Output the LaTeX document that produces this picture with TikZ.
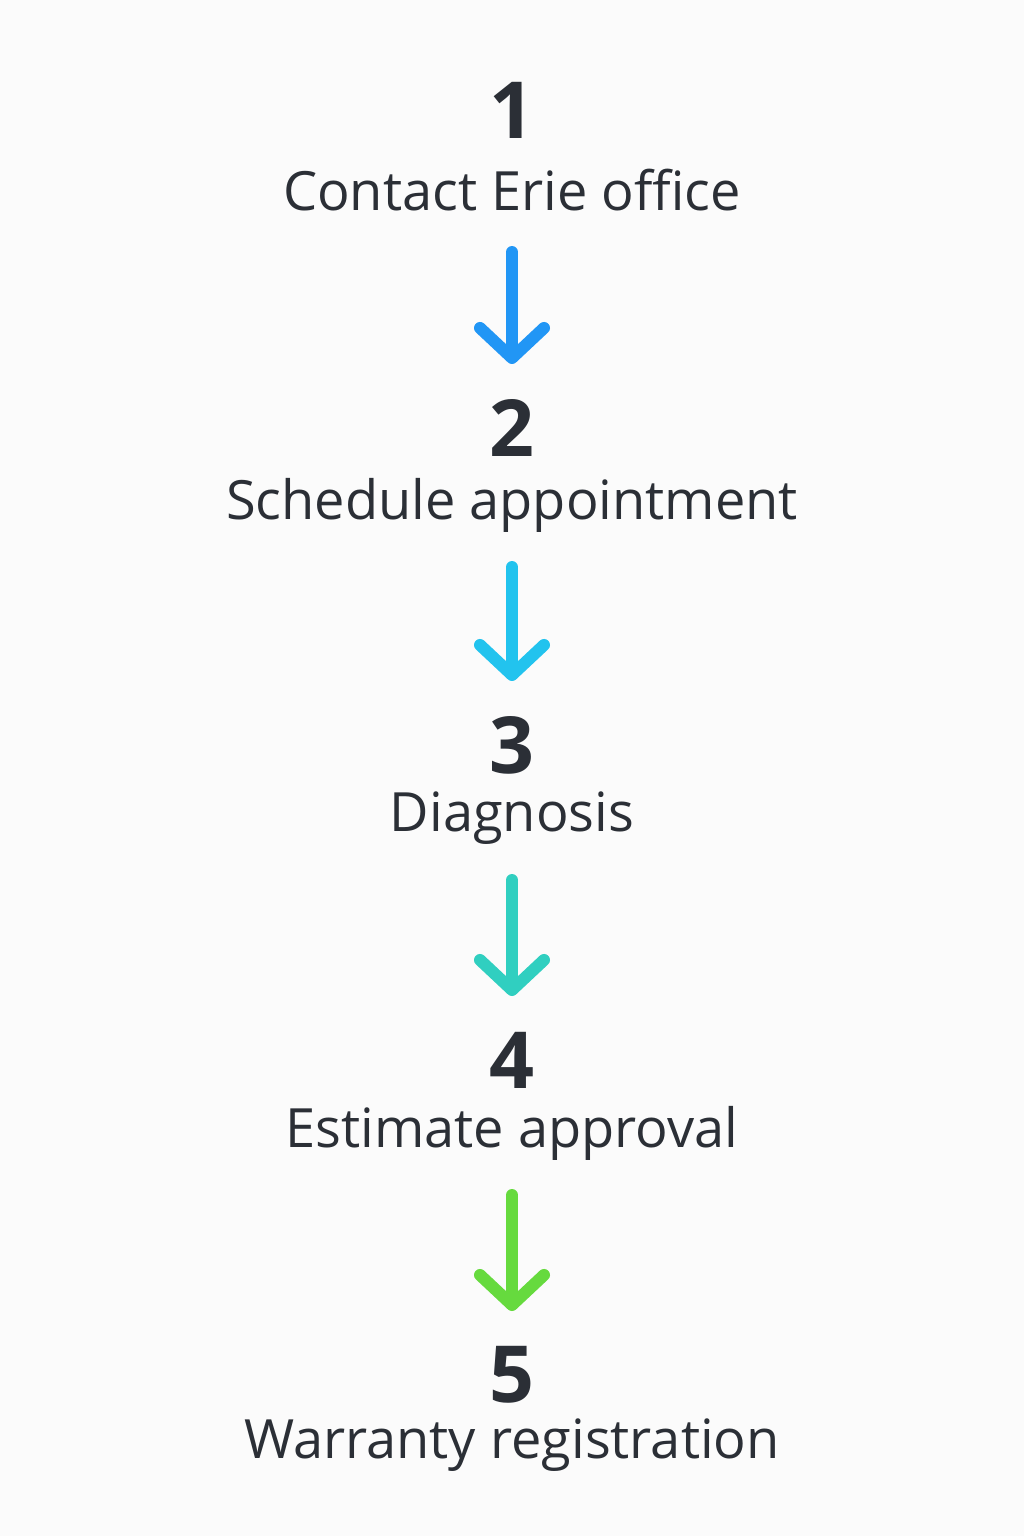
\documentclass[tikz,border=0pt]{standalone}
\usepackage{fontspec}
\setmainfont{Open Sans}
\usetikzlibrary{arrows.meta}
\definecolor{ink}{HTML}{2B2F36}
\definecolor{bg}{HTML}{FBFBFB}
\definecolor{cA}{HTML}{2196F5}
\definecolor{cB}{HTML}{22C3EE}
\definecolor{cC}{HTML}{30CFC0}
\definecolor{cD}{HTML}{66DA3E}
\begin{document}
\begin{tikzpicture}[x=0.025cm,y=-0.025cm,
        num/.style={inner sep=0pt, text=ink, font=\fontsize{56pt}{60pt}\selectfont\bfseries},
        lbl/.style={inner sep=0pt, text=ink, font=\fontsize{38.5pt}{42pt}\selectfont},
        arr/.style={draw, line width=0.3cm, line cap=round, line join=round,
                    -{Straight Barb[length=0.75cm, width=1.6cm, line cap=round, line join=round]}}
    ]
    \fill[bg] (0,0) rectangle (1024,1536);
    \node [num] (n1) at (512,110) {1};
    \node [lbl] (t1) at (512,190) {Contact Erie office};
    \node [num] (n2) at (512,428) {2};
    \node [lbl] (t2) at (512,505) {Schedule appointment};
    \node [num] (n3) at (512,745) {3};
    \node [lbl] (t3) at (512,818) {Diagnosis};
    \node [num] (n4) at (512,1060) {4};
    \node [lbl] (t4) at (512,1133) {Estimate approval};
    \node [num] (n5) at (512,1375) {5};
    \node [lbl] (t5) at (512,1445) {Warranty registration};

    \draw [arr, cA] ([yshift=-1.55cm]t1.center) -- ([yshift=1.6cm]n2.center);
    \draw [arr, cB] ([yshift=-1.55cm]t2.center) -- ([yshift=1.6cm]n3.center);
    \draw [arr, cC] ([yshift=-1.55cm]t3.center) -- ([yshift=1.6cm]n4.center);
    \draw [arr, cD] ([yshift=-1.55cm]t4.center) -- ([yshift=1.6cm]n5.center);
\end{tikzpicture}
\end{document}
